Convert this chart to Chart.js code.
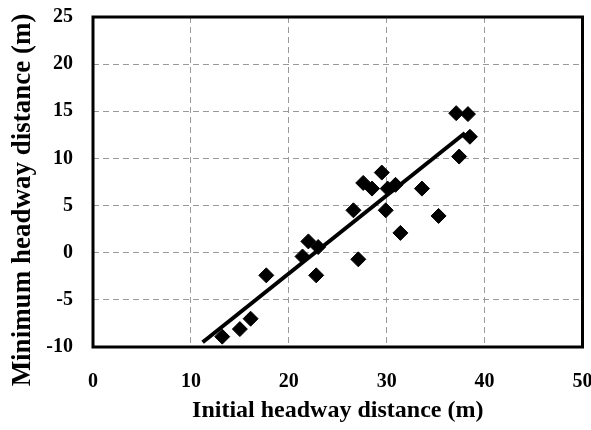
<!DOCTYPE html>
<html>
<head>
<meta charset="utf-8">
<script src="https://cdn.jsdelivr.net/npm/chart.js@4.4.1/dist/chart.umd.min.js"></script>
<style>
  html, body { margin: 0; padding: 0; background: #fff; }
  #wrap { width: 591px; height: 430px; }
</style>
</head>
<body>
<div id="wrap"><canvas id="c" width="591" height="430"></canvas></div>
<script>
// Observed data: initial headway distance (m) vs minimum headway distance (m)
const initialHeadway = [13.2, 15.0, 16.1, 17.7, 21.4, 22.0, 23.0, 22.8, 26.6, 27.1, 27.6, 28.5, 29.5, 29.9, 30.1, 30.9, 31.4, 33.6, 35.3, 37.1, 38.3, 37.4, 38.5];
const minimumHeadway = [-8.9, -8.1, -7.0, -2.4, -0.4, 1.2, 0.6, -2.4, 4.5, -0.7, 7.4, 6.8, 8.5, 4.5, 6.8, 7.2, 2.1, 6.8, 3.9, 14.8, 14.7, 10.2, 12.3];
// Fitted trend line end points
const fitX = [11.2, 38.0];
const fitY = [-9.5, 12.7];
// Axis ticks
const xTicks = [0, 10, 20, 30, 40, 50];
const yTicks = [-10, -5, 0, 5, 10, 15, 20, 25];
const xTitle = 'Initial headway distance (m)';
const yTitle = 'Minimum headway distance (m)';

const scatterPts = initialHeadway.map((x, i) => ({ x: x, y: minimumHeadway[i] }));
const fitPts = fitX.map((x, i) => ({ x: x, y: fitY[i] }));

const frame = {
  id: 'frame',
  afterDraw(chart) {
    const a = chart.chartArea, ctx = chart.ctx;
    ctx.save();
    ctx.strokeStyle = '#000';
    ctx.lineWidth = 3;
    ctx.strokeRect(a.left, a.top, a.right - a.left, a.bottom - a.top);
    ctx.restore();
  }
};

// The reference's y title sits a little lower than the axis centre
const titleShift = {
  id: 'titleShift',
  beforeDraw(chart) {
    const s = chart.scales.y;
    if (s._shiftPatched) return;
    const orig = s.drawTitle.bind(s);
    s.drawTitle = function () {
      const t = this.top, b = this.bottom;
      this.top = t + 18; this.bottom = b + 18;
      orig();
      this.top = t; this.bottom = b;
    };
    s._shiftPatched = true;
  }
};

const serif = "'Liberation Serif', 'Times New Roman', serif";

new Chart(document.getElementById('c'), {
  type: 'scatter',
  data: {
    datasets: [
      {
        label: 'fit',
        type: 'line',
        data: fitPts,
        borderColor: '#000',
        borderWidth: 4,
        pointRadius: 0,
        fill: false,
        tension: 0,
        order: 2
      },
      {
        label: 'observed',
        data: scatterPts,
        pointStyle: 'rectRot',
        pointRadius: 7.5,
        pointHoverRadius: 7.5,
        backgroundColor: '#000',
        borderColor: '#000',
        borderWidth: 1,
        order: 1
      }
    ]
  },
  options: {
    responsive: false,
    animation: false,
    layout: { padding: { left: 0, top: 17, right: 8, bottom: 0 } },
    plugins: { legend: { display: false }, tooltip: { enabled: false } },
    scales: {
      x: {
        type: 'linear',
        min: 0, max: 50,
        afterFit(s) { s.height = 83; s.paddingLeft = 0; s.paddingRight = 0; },
        afterBuildTicks(s) { s.ticks = xTicks.map(v => ({ value: v })); },
        border: { display: false, dash: [6, 4] },
        grid: { color: '#9a9a9a', lineWidth: 1, drawTicks: false },
        ticks: { padding: 23, color: '#000', font: { family: serif, size: 20, weight: 'bold' } },
        title: { display: true, text: xTitle, color: '#000', padding: { top: 0, bottom: 5 }, font: { family: serif, size: 24, weight: 'bold' } }
      },
      y: {
        type: 'linear',
        min: -10, max: 25,
        afterFit(s) { s.width = 93; s.paddingTop = 0; s.paddingBottom = 0; },
        afterBuildTicks(s) { s.ticks = yTicks.map(v => ({ value: v })); },
        border: { display: false, dash: [6, 4] },
        grid: { color: '#9a9a9a', lineWidth: 1, drawTicks: false },
        ticks: { padding: 20, color: '#000', font: { family: serif, size: 20, weight: 'bold' } },
        title: { display: true, text: yTitle, color: '#000', padding: { top: 7, bottom: 0 }, font: { family: serif, size: 27, weight: 'bold' } }
      }
    }
  },
  plugins: [frame, titleShift]
});
</script>
</body>
</html>
